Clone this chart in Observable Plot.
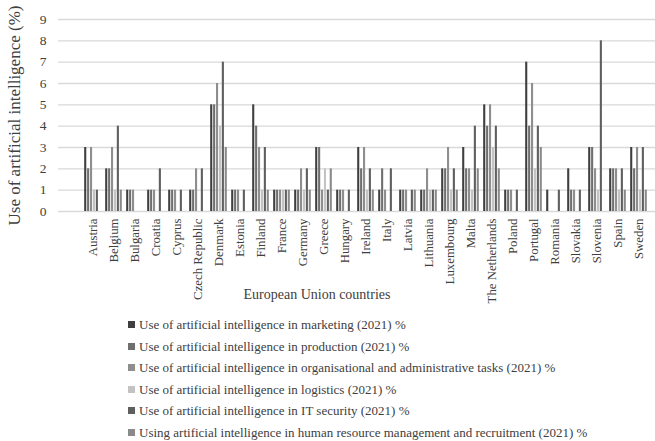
<!DOCTYPE html>
<html><head><meta charset="utf-8">
<script src="https://cdn.jsdelivr.net/npm/d3@7"></script>
<script src="https://cdn.jsdelivr.net/npm/@observablehq/plot@0.6"></script>
<style>
html,body{margin:0;padding:0;background:#fff;overflow:hidden;}
body{font-family:"Liberation Serif","Times New Roman",serif;color:#404040;width:655px;height:441px;}
#legend{margin-left:128px;margin-top:4px;font-size:13px;}
.item{height:21.5px;line-height:21.5px;display:flex;align-items:center;white-space:nowrap;}
.sw{width:7px;height:7px;margin-right:4px;flex:none;}
</style></head><body>
<div id="chart"></div>
<div id="legend"></div>
<script>
const countries = ["Austria","Belgium","Bulgaria","Croatia","Cyprus","Czech Republic","Denmark","Estonia","Finland","France","Germany","Greece","Hungary","Ireland","Italy","Latvia","Lithuania","Luxembourg","Malta","The Netherlands","Poland","Portugal","Romania","Slovakia","Slovenia","Spain","Sweden"];
const seriesNames = [
  "Use of artificial intelligence in marketing (2021) %",
  "Use of artificial intelligence in production (2021) %",
  "Use of artificial intelligence in organisational and administrative tasks (2021) %",
  "Use of artificial intelligence in logistics (2021) %",
  "Use of artificial intelligence in IT security (2021) %",
  "Using artificial intelligence in human resource management and recruitment (2021) %"
];
const marketing      = [3,2,1,1,1,1,5,1,5,1,1,3,1,3,1,1,1,2,3,5,1,7,1,2,3,2,3];
const production     = [2,2,1,1,1,1,5,1,4,1,1,3,1,2,2,1,1,2,2,4,1,4,0,1,3,2,2];
const organisational = [3,3,1,1,1,2,6,1,3,1,2,1,1,3,1,1,2,3,2,5,1,6,0,1,2,2,3];
const logistics      = [1,1,0,0,0,0,4,0,1,1,1,2,0,1,0,0,1,1,1,3,0,2,0,0,1,1,1];
const itSecurity     = [1,4,0,2,1,2,7,1,3,1,2,1,1,2,2,1,1,2,4,4,1,4,1,1,8,2,3];
const hrRecruitment  = [0,1,0,0,0,0,3,0,1,1,1,2,0,1,0,1,1,1,2,2,0,3,0,0,0,1,1];
const yTicks = [0,1,2,3,4,5,6,7,8,9];

const seriesValues = [marketing, production, organisational, logistics, itSecurity, hrRecruitment];
const colors = ["#3f3f3f","#6f6f6f","#8e8e8e","#c3c3c3","#5f5f5f","#8a8a8a"];

const rows = countries.flatMap((c, i) => seriesValues.map((vals, k) => ({country: c, k, value: vals[i]})));

const W = 655, H = 310, mL = 58, mT = 19, mB = 99;
const xRange = [71, 660];
const step = (xRange[1] - xRange[0]) / countries.length;
const gap = step * 0.1;
const bw = step * 0.8 / 6;

const font = "Liberation Serif, Times New Roman, serif";
const chart = Plot.plot({
  width: W, height: H,
  marginLeft: mL, marginRight: 0, marginTop: mT, marginBottom: mB,
  style: {fontFamily: font, fontSize: "13px", color: "#404040", background: "#fff"},
  x: {type: "band", domain: countries, range: xRange, padding: 0},
  y: {domain: [0, 9]},
  marks: [
    Plot.ruleY(yTicks, {stroke: "#d9d9d9", strokeWidth: 1.3}),
    ...seriesValues.map((_, k) => Plot.barY(rows.filter(r => r.k === k), {
      x: "country", y: "value", fill: colors[k],
      insetLeft: gap + k * bw, insetRight: step - gap - (k + 1) * bw
    })),
    Plot.axisY({ticks: yTicks, tickSize: 0, tickPadding: 12, fontSize: 13.5, label: null}),
    Plot.axisX({tickRotate: -90, tickSize: 0, tickPadding: 7, fontSize: 12.8, label: null}),
    Plot.text(["Use of artificial intelligence (%)"], {text: d => d, frameAnchor: "left", textAnchor: "middle", rotate: -90, dx: -44, fontSize: 17}),
    Plot.text(["European Union countries"], {text: d => d, frameAnchor: "bottom", dy: 87, dx: -40, fontSize: 14})
  ]
});
document.getElementById("chart").appendChild(chart);

const legend = document.getElementById("legend");
seriesNames.forEach((name, k) => {
  const it = document.createElement("div");
  it.className = "item";
  const sw = document.createElement("span");
  sw.className = "sw"; sw.style.background = colors[k];
  const t = document.createElement("span");
  t.textContent = name;
  it.appendChild(sw); it.appendChild(t);
  legend.appendChild(it);
});
</script>
</body></html>
